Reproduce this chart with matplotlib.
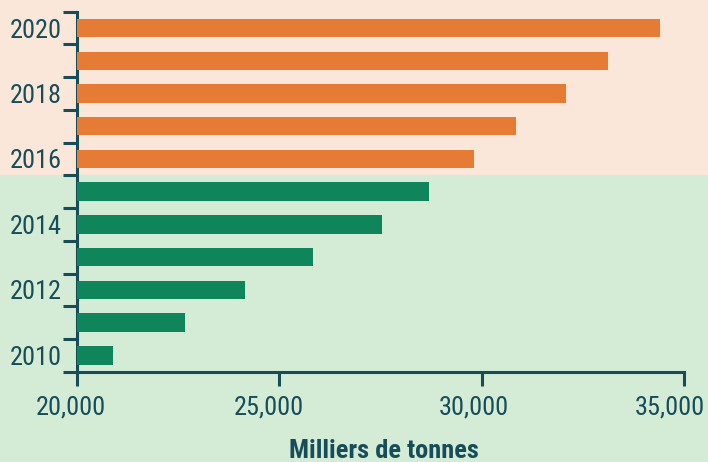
import matplotlib
matplotlib.use("Agg")
import matplotlib.pyplot as plt
from matplotlib import font_manager
from matplotlib.patches import Rectangle
from matplotlib.transforms import ScaledTranslation

years = [2010, 2011, 2012, 2013, 2014, 2015, 2016, 2017, 2018, 2019, 2020]
values = [20900, 22675, 24155, 25830, 27540, 28700, 29810, 30850, 32080, 33117, 34400]
xticks = [20000, 25000, 30000, 35000]
xtick_labels = ["20,000", "25,000", "30,000", "35,000"]
ytick_label_years = [2010, 2012, 2014, 2016, 2018, 2020]
xlabel = "Milliers de tonnes"

ORANGE = "#E67B35"
GREEN = "#10855B"
PEACH = "#FAE7D9"
LIGHTGREEN = "#D4EBD6"
DARK = "#174D58"

names = {f.name for f in font_manager.fontManager.ttflist}
fam = [n for n in ["Roboto Condensed", "Liberation Sans Narrow", "Roboto", "DejaVu Sans"] if n in names]
plt.rcParams["font.family"] = fam

fig = plt.figure(figsize=(7.08, 4.62), dpi=100)
fig.patch.set_facecolor(PEACH)
ax = fig.add_axes([76.7 / 708, 90.3 / 462, (684.3 - 76.7) / 708, (450.3 - 90.3) / 462])
ax.set_facecolor("none")

colors = [ORANGE if y >= 2016 else GREEN for y in years]
ax.barh(years, [v - 20000 for v in values], left=20000, height=0.5625, color=colors, zorder=3)

ax.set_xlim(20000, 35000)
ax.set_ylim(2009.5, 2020.5)

# split background
split = fig.transFigure.inverted().transform(ax.transData.transform((20000, 2015.5)))[1]
fig.patches.append(Rectangle((0, 0), 1, split, transform=fig.transFigure,
                             facecolor=LIGHTGREEN, edgecolor="none", zorder=-10))

for s in ["top", "right"]:
    ax.spines[s].set_visible(False)
for s in ["left", "bottom"]:
    ax.spines[s].set_color(DARK)
    ax.spines[s].set_linewidth(2.2)

ax.set_xticks(xticks)
ax.set_xticklabels(xtick_labels)
ax.set_yticks([y + 0.5 for y in [2009] + years])
ax.set_yticklabels([])
ax.set_yticks(ytick_label_years, minor=True)
ax.set_yticklabels([str(y) for y in ytick_label_years], minor=True)
ax.tick_params(axis="y", which="major", length=10, width=2.2, color=DARK)
ax.tick_params(axis="y", which="minor", length=0, pad=11, labelsize=19, labelcolor=DARK)
ax.tick_params(axis="x", length=10, width=2.2, color=DARK, labelsize=19, labelcolor=DARK, pad=7)

label_shift_px = [-6, -10, -8, -14]
for lab, dx in zip(ax.get_xticklabels(), label_shift_px):
    lab.set_transform(lab.get_transform() + ScaledTranslation(dx / 100, 0, fig.dpi_scale_trans))

ax.set_xlabel(xlabel, fontsize=19, fontweight="bold", color=DARK, labelpad=14)
ax.xaxis.label.set_transform(ax.xaxis.label.get_transform() + ScaledTranslation(3 / 100, 0, fig.dpi_scale_trans))

fig.savefig("out.png", dpi=100, facecolor=fig.get_facecolor())
